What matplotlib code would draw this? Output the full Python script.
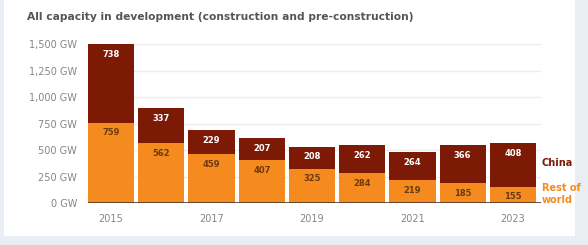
import matplotlib
matplotlib.use("Agg")
import matplotlib.pyplot as plt
from matplotlib.patches import Rectangle

years = [2015, 2016, 2017, 2018, 2019, 2020, 2021, 2022, 2023]
rest_of_world = [759, 562, 459, 407, 325, 284, 219, 185, 155]
china = [738, 337, 229, 207, 208, 262, 264, 366, 408]
yticks = [0, 250, 500, 750, 1000, 1250, 1500]
ytick_labels = ["0 GW", "250 GW", "500 GW", "750 GW", "1,000 GW", "1,250 GW", "1,500 GW"]
xticks = [2015, 2017, 2019, 2021, 2023]

c_china = "#7d1a05"
c_row = "#f58a1f"
grey = "#858585"

fig = plt.figure(figsize=(5.88, 2.45), dpi=100)
fig.patch.set_facecolor("#e8eef4")
# white card behind everything
fig.patches.append(Rectangle((4 / 588, 9 / 245), 571 / 588, 236 / 245,
                             transform=fig.transFigure, facecolor="white",
                             edgecolor="none", zorder=-5))

fig.text(27 / 588, 1 - 17 / 245,
         "All capacity in development (construction and pre-construction)",
         fontsize=7.7, fontweight="bold", color="#555555", va="center", ha="left")

ax = fig.add_axes([88 / 588, 1 - 203 / 245, (541 - 88) / 588, (203 - 44) / 245])
ax.set_zorder(2)
ax.set_facecolor("white")

w = 0.92
ax.bar(years, rest_of_world, width=w, color=c_row, zorder=2)
ax.bar(years, china, width=w, bottom=rest_of_world, color=c_china, zorder=2)

# value labels sit a few pixels below the top of each segment
for x, r, c in zip(years, rest_of_world, china):
    ax.annotate(str(r), (x, r), xytext=(0, -7.5), textcoords="offset points",
                ha="center", va="center", fontsize=6, fontweight="bold",
                color="#6b3a10", zorder=3)
    ax.annotate(str(c), (x, r + c), xytext=(0, -7.5), textcoords="offset points",
                ha="center", va="center", fontsize=6, fontweight="bold",
                color="white", zorder=3)

ax.set_xlim(2014.54, 2023.56)
ax.set_ylim(0, 1500)
ax.set_yticks(yticks)
ax.set_yticklabels(ytick_labels)
ax.set_xticks(xticks)
ax.tick_params(axis="both", length=0, labelsize=7, colors=grey)
ax.tick_params(axis="y", pad=8)
ax.tick_params(axis="x", pad=8)
ax.grid(axis="y", color="#ededed", linewidth=1.0, zorder=0)
ax.set_axisbelow(True)
for s in ax.spines.values():
    s.set_visible(False)
ax.axhline(0, color="#4a3a30", linewidth=1.2, zorder=4)

fig.text(542 / 588, 1 - 163 / 245, "China", fontsize=7, fontweight="bold",
         color=c_china, va="center", ha="left")
fig.text(542 / 588, 1 - 194 / 245, "Rest of\nworld", fontsize=7, fontweight="bold",
         color=c_row, va="center", ha="left", linespacing=1.3)

fig.savefig("out.png", dpi=100, facecolor=fig.get_facecolor())
